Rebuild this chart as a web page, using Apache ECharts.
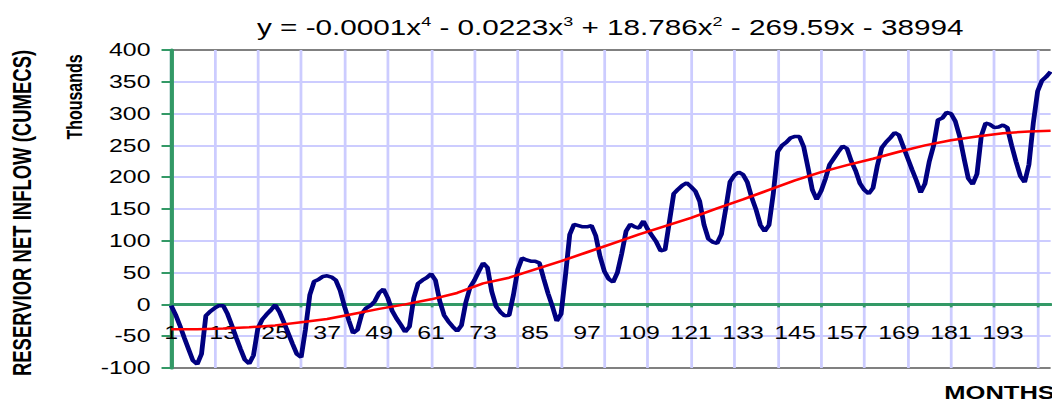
<!DOCTYPE html>
<html><head><meta charset="utf-8">
<script src="https://cdn.jsdelivr.net/npm/echarts@6/dist/echarts.min.js"></script>
<style>
html,body{margin:0;padding:0;background:#fff;overflow:hidden}
#wrap{width:1052px;height:401px;overflow:hidden;position:relative;background:#fff}
#chart{width:762px;height:401px;transform:scaleX(1.380577);transform-origin:0 0}
</style></head><body>
<div id="wrap"><div id="chart"></div></div>
<script>
// ---- data ----
const monthCount = 204;
const months = Array.from({length: monthCount}, (_, i) => String(i + 1));

// Reservoir net inflow, thousands of cumecs, month 1..204
const inflow = [
  -2, -16, -33, -52, -70, -88, -94, -78, -18, -11, -6, -2,
  -2, -15, -33, -52, -70, -87, -93, -80, -38, -24, -16, -9,
  -1, -12, -28, -45, -62, -78, -83, -39, 15, 36, 39, 44,
  45, 43, 38, 22, -3, -25, -45, -40, -15, -6, -2, 5,
  18, 24, 10, -10, -22, -32, -43, -35, 10, 33, 38, 42,
  48, 38, 5, -17, -27, -35, -42, -33, 3, 27, 38, 52,
  65, 58, 20, -3, -12, -18, -17, 15, 55, 73, 70, 68,
  68, 65, 40, 17, -3, -26, -15, 45, 110, 126, 124, 122,
  122, 124, 108, 75, 52, 40, 35, 50, 80, 115, 126, 122,
  120, 131, 118, 108, 98, 84, 86, 130, 174, 181, 187, 191,
  185, 178, 162, 125, 103, 98, 96, 110, 150, 193, 203, 208,
  204, 192, 168, 149, 125, 115, 125, 175, 240, 250, 255, 262,
  264, 264, 248, 215, 180, 165, 178, 197, 220, 230, 240, 249,
  245, 225, 210, 190, 180, 174, 183, 218, 246, 255, 262, 270,
  266, 248, 230, 212, 195, 176, 190, 225, 250, 290, 293, 302,
  300, 288, 264, 230, 198, 189, 205, 265, 285, 283, 278, 279,
  282, 278, 250, 225, 202, 192, 220, 285, 335, 352, 358, 366
];

// Polynomial trend line, read at sample months
const trendMonths = [1, 7, 13, 19, 25, 31, 37, 43, 49, 55, 61, 67, 73, 79, 85, 91, 97, 103,
  109, 115, 121, 127, 133, 139, 145, 151, 157, 163, 169, 175, 181, 187, 193, 199, 204];
const trendValues = [-39, -39, -38, -36, -33, -28, -23, -15, -7, 0, 8, 18, 33, 42, 55, 68, 82, 96,
  110, 123, 136, 151, 165, 180, 195, 208, 219, 229, 240, 250, 258, 264, 269, 272, 273];

const yTicks = { min: -100, max: 400, step: 50 };
const titleText = '{m|y = -0.0001x}{s|4}{m| - 0.0223x}{s|3}{m| + 18.786x}{s|2}{m| - 269.59x - 38994}';
const yAxisTitle = 'RESERVIOR NET INFLOW (CUMECS)';
const unitTitle = 'Thousands';
const xAxisTitle = 'MONTHS';

// ---- chart ----
const FONT = '"Liberation Sans", Arial, Helvetica, sans-serif';
const GREEN = '#339966';
const GRID = '#ccccff';
const BORDER = '#808080';
const nLines = (yTicks.max - yTicks.min) / yTicks.step + 1;
const hColors = Array.from({length: nLines}, (_, i) => (i === 0 || i === nLines - 1) ? BORDER : GRID);

const chart = echarts.init(document.getElementById('chart'), null, {renderer: 'svg'});
chart.setOption({
  animation: false,
  backgroundColor: '#ffffff',
  grid: {left: 124, right: 1, top: 50, bottom: 33, containLabel: false, outerBoundsMode: 'none'},
  xAxis: {
    type: 'category',
    data: months,
    boundaryGap: false,
    axisLine: {show: true, onZero: true, lineStyle: {color: GREEN, width: 3}},
    axisTick: {show: true, interval: (i) => i % 10 === 0, length: 3, lineStyle: {color: GREEN, width: 2}},
    axisLabel: {interval: 11, margin: -44, fontSize: 18, color: '#000', fontFamily: FONT},
    splitLine: {show: true, interval: (i) => i % 10 === 0, lineStyle: {color: GRID, width: 2}}
  },
  yAxis: {
    type: 'value',
    min: yTicks.min, max: yTicks.max, interval: yTicks.step,
    axisLine: {show: true, onZero: false, lineStyle: {color: GREEN, width: 3}},
    axisTick: {show: true, length: 7, lineStyle: {color: GREEN, width: 2}},
    axisLabel: {margin: 15, fontSize: 18, color: '#000', fontFamily: FONT},
    splitLine: {show: true, lineStyle: {color: hColors, width: 2}}
  },
  series: [
    {
      type: 'line', name: 'Inflow', data: inflow, showSymbol: false, symbol: 'none',
      lineStyle: {color: '#000080', width: 3.5}, itemStyle: {color: '#000080'}, z: 3
    },
    {
      type: 'line', name: 'Trend', data: trendMonths.map((m, i) => [String(m), trendValues[i]]),
      showSymbol: false, symbol: 'none',
      lineStyle: {color: '#ff0000', width: 2.5}, itemStyle: {color: '#ff0000'}, z: 4
    }
  ],
  graphic: [
    {
      type: 'text', x: 442, y: 28,
      style: {
        text: titleText, align: 'center', verticalAlign: 'middle', fill: '#000',
        rich: {
          m: {fontSize: 21.5, fontFamily: FONT, lineHeight: 26, fill: '#000'},
          s: {fontSize: 13, fontFamily: FONT, lineHeight: 14, verticalAlign: 'top', fill: '#000'}
        }
      }
    },
    {
      type: 'text', x: 16, y: 213, rotation: Math.PI / 2,
      style: {text: yAxisTitle, fontSize: 18.5, fontWeight: 'bold', fontFamily: FONT,
        align: 'center', verticalAlign: 'middle', fill: '#000'}
    },
    {
      type: 'text', x: 54, y: 97, rotation: Math.PI / 2,
      style: {text: unitTitle, fontSize: 16, fontWeight: 'bold', fontFamily: FONT,
        align: 'center', verticalAlign: 'middle', fill: '#000'}
    },
    {
      type: 'text', x: 684, y: 393,
      style: {text: xAxisTitle, fontSize: 18.5, fontWeight: 'bold', fontFamily: FONT,
        align: 'left', verticalAlign: 'middle', fill: '#000'}
    }
  ]
});
</script>
</body></html>
